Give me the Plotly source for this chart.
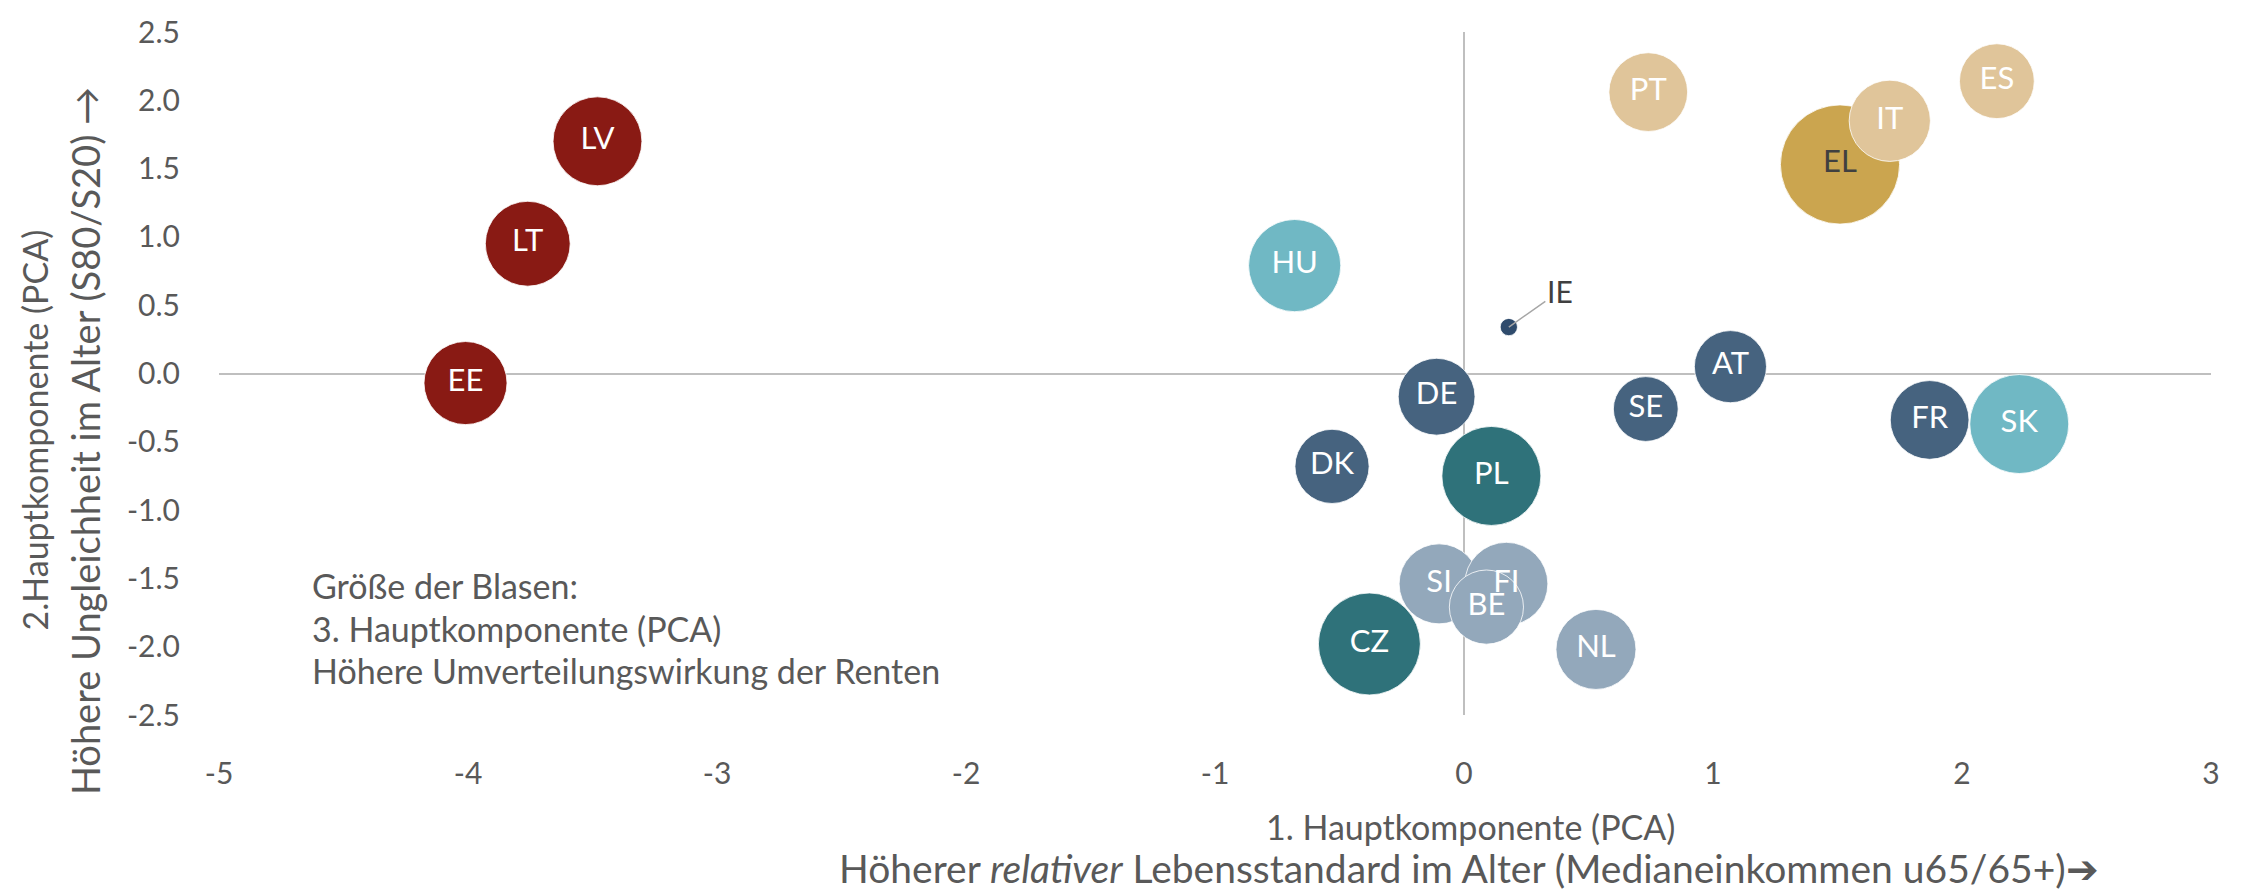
import plotly.graph_objects as go

# Länder und Hauptkomponenten (PCA)
laender = ["LV", "LT", "EE", "HU", "IE", "DE", "DK", "PL", "SE", "AT", "FR", "SK",
           "SI", "FI", "BE", "CZ", "NL", "PT", "EL", "IT", "ES"]
hk1 = [-3.48, -3.76, -4.01, -0.68, 0.18, -0.11, -0.53, 0.11, 0.73, 1.07, 1.87, 2.23,
       -0.10, 0.17, 0.09, -0.38, 0.53, 0.74, 1.51, 1.71, 2.14]
hk2 = [1.70, 0.95, -0.07, 0.79, 0.34, -0.17, -0.68, -0.75, -0.26, 0.05, -0.34, -0.37,
       -1.54, -1.54, -1.71, -1.98, -2.02, 2.06, 1.53, 1.85, 2.14]
# Blasengröße (3. Hauptkomponente, relativ)
hk3 = [0.79, 0.72, 0.69, 0.85, 0.03, 0.59, 0.55, 0.98, 0.42, 0.52, 0.62, 0.98,
       0.64, 0.69, 0.55, 1.04, 0.64, 0.62, 1.42, 0.66, 0.56]
gruppe = ["ost", "ost", "ost", "tuerkis", "ie", "blau", "blau", "petrol", "blau", "blau", "blau", "tuerkis",
          "grau", "grau", "grau", "petrol", "grau", "sand", "gold", "sand", "sand"]

x_ticks = [-5, -4, -3, -2, -1, 0, 1, 2, 3]
x_ticktext = ["-5", "-4", "-3", "-2", "-1", "0", "1", "2", "3"]
y_ticks = [2.5, 2.0, 1.5, 1.0, 0.5, 0.0, -0.5, -1.0, -1.5, -2.0, -2.5]
y_ticktext = ["2.5", "2.0", "1.5", "1.0", "0.5", "0.0", "-0.5", "-1.0", "-1.5", "-2.0", "-2.5"]

farben = {
    "ost": "#891A14",
    "tuerkis": "#70B8C4",
    "ie": "#2F4B6C",
    "blau": "#46637F",
    "petrol": "#2F727A",
    "grau": "#93A8BB",
    "sand": "#E0C59A",
    "gold": "#CBA54F",
}

FONT = "Lato"
GRAU = "#595959"

marker_farben = [farben[g] for g in gruppe]
text_farben = ["#404040" if l == "EL" else "white" for l in laender]
labels = ["" if l == "IE" else l for l in laender]

fig = go.Figure()
fig.add_trace(go.Scatter(
    x=hk1, y=hk2, mode="markers+text", text=labels,
    textposition="middle center",
    textfont=dict(family=FONT, size=31, color=text_farben),
    marker=dict(size=hk3, sizemode="area", sizeref=2 / 10000, color=marker_farben,
                opacity=1, line=dict(width=0.8, color="white")),
    hoverinfo="text", hovertext=laender, showlegend=False,
))

ie = laender.index("IE")
fig.add_annotation(x=hk1[ie], y=hk2[ie], text="IE", showarrow=True, arrowhead=0,
                   arrowwidth=1.5, arrowcolor="#A6A6A6", ax=51, ay=-36,
                   font=dict(family=FONT, size=30, color="#404040"))

# Achsentitel
fig.add_annotation(xref="paper", yref="paper", x=0.6285, y=-0.1635, showarrow=False,
                   text="1. Hauptkomponente (PCA)", yanchor="middle",
                   font=dict(family=FONT, size=34, color=GRAU))
fig.add_annotation(xref="paper", yref="paper", x=0.6275, y=-0.2243, showarrow=False,
                   text="Höherer <i>relativer</i> Lebensstandard im Alter (Medianeinkommen u65/65+)➔",
                   yanchor="middle", borderpad=0, font=dict(family=FONT, size=39, color=GRAU))
fig.add_annotation(xref="paper", yref="paper", x=-0.0924, y=0.418, showarrow=False,
                   text="2.Hauptkomponente (PCA)", textangle=-90, xanchor="center", yanchor="middle",
                   font=dict(family=FONT, size=34, color=GRAU))
fig.add_annotation(xref="paper", yref="paper", x=-0.0673, y=0.401, showarrow=False,
                   text="Höhere Ungleichheit im Alter (S80/S20) →", textangle=-90,
                   xanchor="center", yanchor="middle",
                   font=dict(family=FONT, size=38, color=GRAU))

# Hinweis zur Blasengröße
for zeile, yp in [("Größe der Blasen:", 0.1896), ("3. Hauptkomponente (PCA)", 0.1273),
                  ("Höhere Umverteilungswirkung der Renten", 0.0651)]:
    fig.add_annotation(xref="paper", yref="paper", x=0.0457, y=yp, showarrow=False,
                       text=zeile, xanchor="left", yanchor="middle",
                       font=dict(family=FONT, size=34, color=GRAU))

fig.update_xaxes(range=[-5, 3], tickvals=x_ticks, ticktext=x_ticktext, showgrid=False,
                 zeroline=True, zerolinecolor="#BFBFBF", zerolinewidth=2, showline=False,
                 ticks="", ticklabelstandoff=38,
                 tickfont=dict(family=FONT, size=30, color=GRAU))
fig.update_yaxes(range=[-2.5, 2.5], tickvals=y_ticks, ticktext=y_ticktext, showgrid=False,
                 zeroline=True, zerolinecolor="#BFBFBF", zerolinewidth=2, showline=False,
                 ticks="", ticklabelstandoff=38,
                 tickfont=dict(family=FONT, size=30, color=GRAU))

fig.update_layout(width=2244, height=895, margin=dict(l=219, r=33, t=24, b=180),
                  plot_bgcolor="white", paper_bgcolor="white")

fig.write_html("out.html", config={"displayModeBar": False},
               post_script="document.body.style.margin='0';")
